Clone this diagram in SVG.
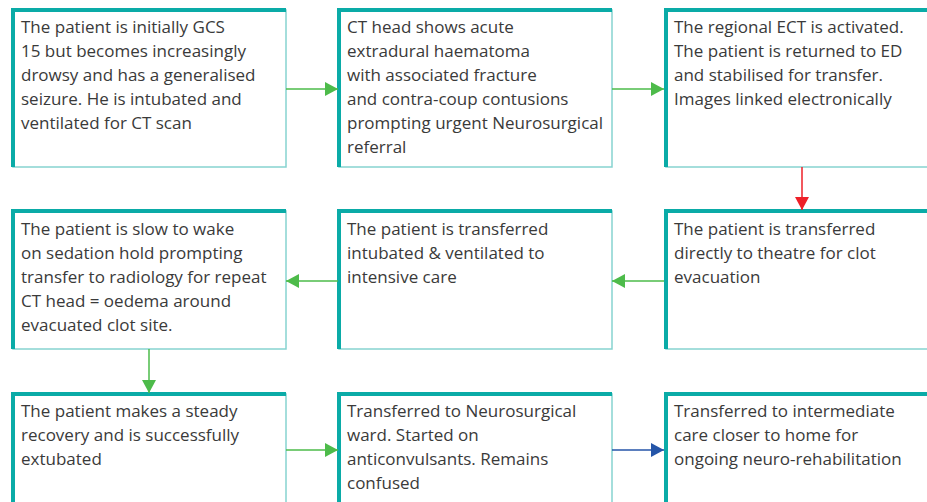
<svg xmlns="http://www.w3.org/2000/svg" width="927" height="502" viewBox="0 0 927 502">
<style>
.box{fill:#fff;stroke:#86d3d0;stroke-width:1.5}
.edge{stroke:#0aaba7;stroke-width:4;fill:none}
.t{font-family:"Open Sans","Noto Sans",sans-serif;font-size:17px;fill:#3a3a3a}
.g{stroke:#4dbb4a;stroke-width:1.5;fill:none}
</style>
<defs>
<marker id="ag" viewBox="0 0 13 14" refX="13" refY="7" markerWidth="13" markerHeight="14" markerUnits="userSpaceOnUse" orient="auto"><path d="M0,0 L13,7 L0,14 z" fill="#4dbb4a"/></marker>
<marker id="ar" viewBox="0 0 13 14" refX="13" refY="7" markerWidth="13" markerHeight="14" markerUnits="userSpaceOnUse" orient="auto"><path d="M0,0 L13,7 L0,14 z" fill="#ee2028"/></marker>
<marker id="ab" viewBox="0 0 13 14" refX="13" refY="7" markerWidth="13" markerHeight="14" markerUnits="userSpaceOnUse" orient="auto"><path d="M0,0 L13,7 L0,14 z" fill="#2555a8"/></marker>
</defs>
<rect width="927" height="502" fill="#fff"/>
<g id="n1"><rect class="box" x="13" y="10" width="273" height="157"/><path class="edge" d="M13,167 V10 H286"/>
<text class="t" x="21" y="33">The patient is initially GCS</text><text class="t" x="21" y="57">15 but becomes increasingly</text><text class="t" x="21" y="81">drowsy and has a generalised</text><text class="t" x="21" y="105">seizure. He is intubated and</text><text class="t" x="21" y="129">ventilated for CT scan</text></g>
<g id="n2"><rect class="box" x="339" y="10" width="273" height="157"/><path class="edge" d="M339,167 V10 H612"/>
<text class="t" x="347" y="33">CT head shows acute</text><text class="t" x="347" y="57">extradural haematoma</text><text class="t" x="347" y="81">with associated fracture</text><text class="t" x="347" y="105">and contra-coup contusions</text><text class="t" x="347" y="129">prompting urgent Neurosurgical</text><text class="t" x="347" y="153">referral</text></g>
<g id="n3"><rect class="box" x="666" y="10" width="270" height="157"/><path class="edge" d="M666,167 V10 H927"/>
<text class="t" x="674" y="33">The regional ECT is activated.</text><text class="t" x="674" y="57">The patient is returned to ED</text><text class="t" x="674" y="81">and stabilised for transfer.</text><text class="t" x="674" y="105">Images linked electronically</text></g>
<g id="n4"><rect class="box" x="13" y="211" width="273" height="138"/><path class="edge" d="M13,349 V211 H286"/>
<text class="t" x="21" y="235">The patient is slow to wake</text><text class="t" x="21" y="259">on sedation hold prompting</text><text class="t" x="21" y="283">transfer to radiology for repeat</text><text class="t" x="21" y="307">CT head = oedema around</text><text class="t" x="21" y="331">evacuated clot site.</text></g>
<g id="n5"><rect class="box" x="339" y="211" width="273" height="138"/><path class="edge" d="M339,349 V211 H612"/>
<text class="t" x="347" y="235">The patient is transferred</text><text class="t" x="347" y="259">intubated &amp; ventilated to</text><text class="t" x="347" y="283">intensive care</text></g>
<g id="n6"><rect class="box" x="666" y="211" width="270" height="138"/><path class="edge" d="M666,349 V211 H927"/>
<text class="t" x="674" y="235">The patient is transferred</text><text class="t" x="674" y="259">directly to theatre for clot</text><text class="t" x="674" y="283">evacuation</text></g>
<g id="n7"><rect class="box" x="13" y="394" width="273" height="120"/><path class="edge" d="M13,510 V394 H286"/>
<text class="t" x="21" y="417">The patient makes a steady</text><text class="t" x="21" y="441">recovery and is successfully</text><text class="t" x="21" y="465">extubated</text></g>
<g id="n8"><rect class="box" x="339" y="394" width="273" height="120"/><path class="edge" d="M339,510 V394 H612"/>
<text class="t" x="347" y="417">Transferred to Neurosurgical</text><text class="t" x="347" y="441">ward. Started on</text><text class="t" x="347" y="465">anticonvulsants. Remains</text><text class="t" x="347" y="489">confused</text></g>
<g id="n9"><rect class="box" x="666" y="394" width="270" height="120"/><path class="edge" d="M666,510 V394 H927"/>
<text class="t" x="674" y="417">Transferred to intermediate</text><text class="t" x="674" y="441">care closer to home for</text><text class="t" x="674" y="465">ongoing neuro-rehabilitation</text></g>
<g id="connectors">
<line class="g" x1="286" y1="89" x2="338" y2="89" marker-end="url(#ag)"/>
<line class="g" x1="612" y1="89" x2="664" y2="89" marker-end="url(#ag)"/>
<line x1="802" y1="167" x2="802" y2="210" stroke="#ee2028" stroke-width="1.5" marker-end="url(#ar)"/>
<line class="g" x1="664" y1="281" x2="612" y2="281" marker-end="url(#ag)"/>
<line class="g" x1="338" y1="281" x2="286" y2="281" marker-end="url(#ag)"/>
<line class="g" x1="149" y1="349" x2="149" y2="393" marker-end="url(#ag)"/>
<line class="g" x1="286" y1="450" x2="338" y2="450" marker-end="url(#ag)"/>
<line x1="612" y1="450" x2="664" y2="450" stroke="#2555a8" stroke-width="1.5" marker-end="url(#ab)"/>
</g>
</svg>
